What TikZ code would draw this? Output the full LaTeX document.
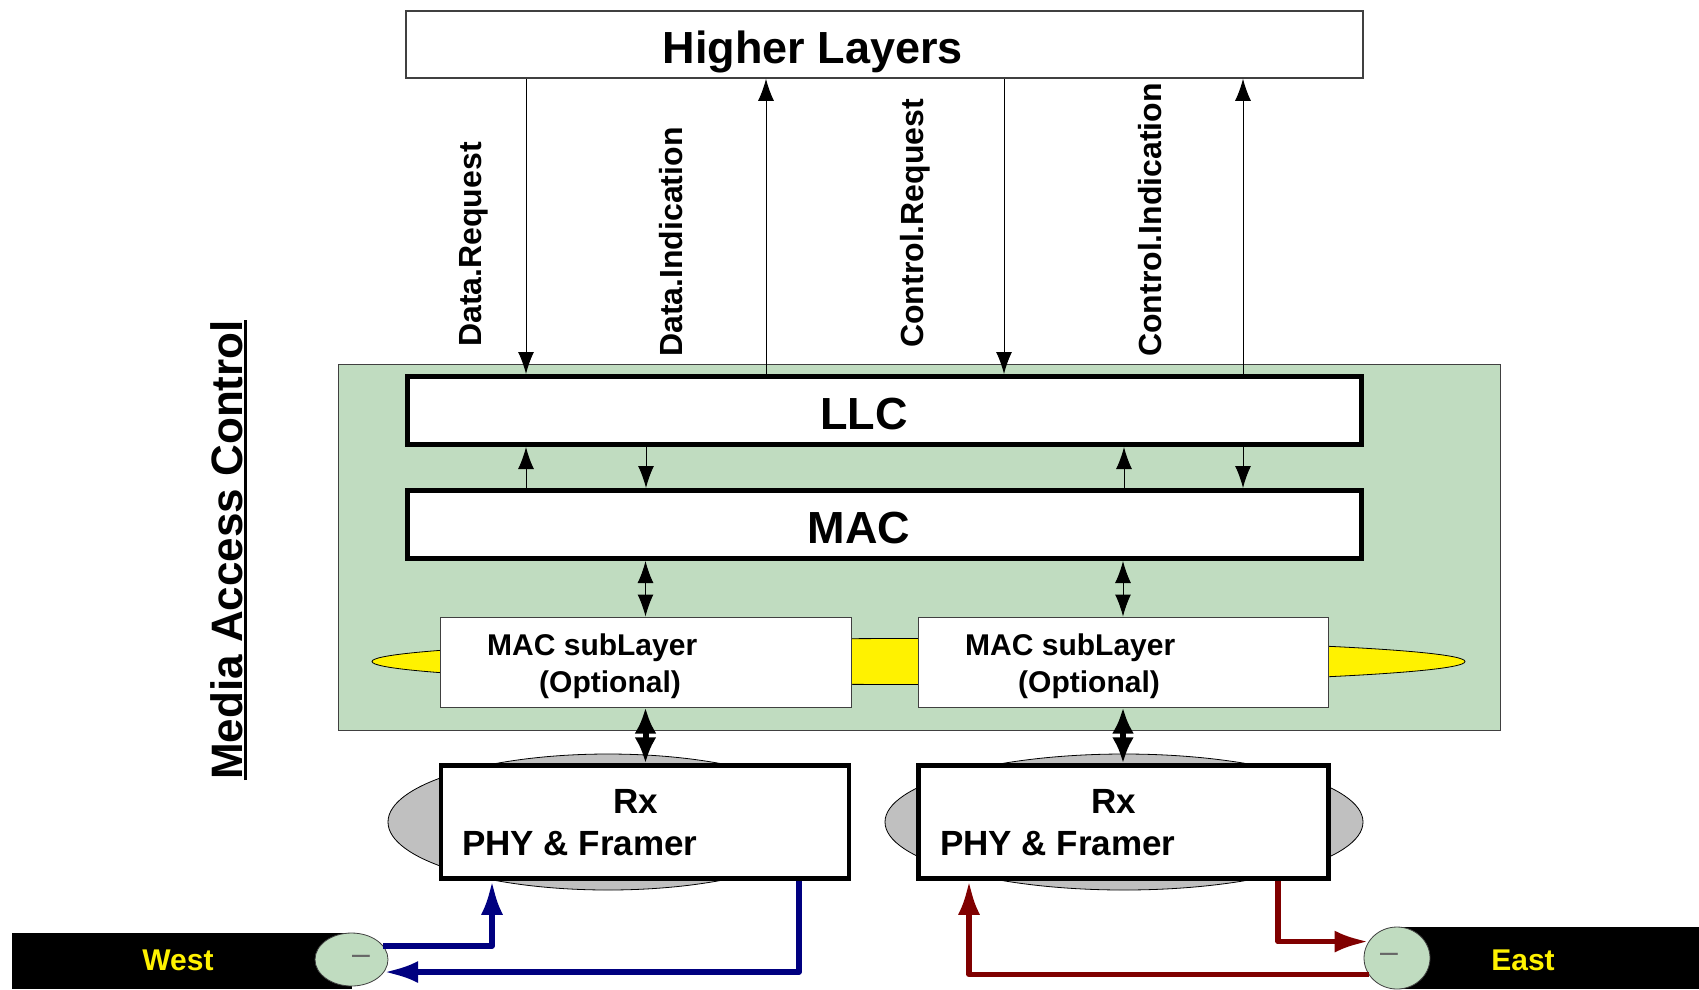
\documentclass[tikz,border=0pt]{standalone}
\usepackage{fontspec}
\setmainfont{Liberation Sans}
\usetikzlibrary{arrows.meta, shapes.geometric}
\definecolor{macgreen}{RGB}{192, 220, 192}
\definecolor{linkblue}{RGB}{0, 0, 128}
\definecolor{linkred}{RGB}{128, 0, 0}
\definecolor{phygrey}{RGB}{192, 192, 192}
\definecolor{edgegrey}{RGB}{64, 64, 64}

\begin{document}
\begin{tikzpicture}[
	x=1pt, y=-1pt,
	>={Latex[length=22pt, width=16pt]},
	font=\bfseries,
	% Styles for the layer boxes
	layerbox/.style={draw=black, line width=5pt, fill=white, inner sep=0pt},
	subbox/.style={draw=edgegrey, line width=1pt, fill=white, inner sep=0pt},
	phybox/.style={draw=black, line width=4.5pt, fill=white, inner sep=0pt},
	% Styles for the texts (multi-line nodes sit on their last baseline)
	bigtext/.style={font=\fontsize{45}{54}\selectfont\bfseries, inner sep=0pt, anchor=base},
	primtext/.style={font=\fontsize{32}{38}\selectfont\bfseries, rotate=90, anchor=base west, inner sep=0pt},
	subtext/.style={font=\fontsize{30}{37}\selectfont\bfseries, align=left, anchor=base west, inner sep=0pt},
	phytext/.style={font=\fontsize{35}{42}\selectfont\bfseries, align=left, anchor=base west, inner sep=0pt},
	cabletext/.style={text=yellow, font=\fontsize{30}{36}\selectfont\bfseries, inner sep=0pt},
	% Styles for the links
	thinlink/.style={line width=1pt},
	thicklink/.style={line width=6pt, >={Latex[length=26pt, width=22pt]}, <->},
	bluewire/.style={draw=linkblue, line width=5.5pt, line join=round, >={Latex[length=34pt, width=22pt]}, ->},
	redwire/.style={draw=linkred, line width=5.5pt, line join=round, >={Latex[length=34pt, width=22pt]}, ->},
	cableend/.style={ellipse, draw=edgegrey, line width=0.8pt, fill=macgreen, inner sep=0pt, text=black!60, font=\fontsize{32}{32}\selectfont\mdseries}
	]
	\useasboundingbox (0,0) rectangle (1699,989);

	% ==========================================
	% 1. HIGHER LAYERS
	% ==========================================
	\node[draw=edgegrey, line width=1.5pt, fill=white, inner sep=0pt, minimum width=957pt, minimum height=67pt] (higher) at (884.5,44.5) {};
	\node[bigtext] (higherTxt) at (813,63) {Higher Layers};

	% ==========================================
	% 2. MEDIA ACCESS CONTROL
	% ==========================================
	\draw[fill=macgreen, draw=edgegrey, line width=1pt] (338,364) rectangle (1500,730);
	\draw[fill=yellow, draw=black, line width=0.8pt] (918.5,661.5) ellipse [x radius=546.5pt, y radius=23pt];

	\node[subbox, minimum width=411pt, minimum height=90pt] (subW) at (645.5,662) {};
	\node[subbox, minimum width=410pt, minimum height=90pt] (subE) at (1123,662) {};
	\node[subtext] (subWTxt) at (487,692) {MAC subLayer\\\hspace*{52pt}(Optional)};
	\node[subtext] (subETxt) at (965,692) {MAC subLayer\\\hspace*{53pt}(Optional)};

	\node[layerbox, minimum width=954pt, minimum height=68pt] (llc) at (884,410.5) {};
	\node[layerbox, minimum width=954pt, minimum height=68pt] (mac) at (884,524.5) {};
	\node[bigtext] (llcTxt) at (864,429) {LLC};
	\node[bigtext] (macTxt) at (859,543) {MAC};

	% vertical title, underlined
	\node[font=\fontsize{44}{52}\selectfont\bfseries, rotate=90, anchor=base west, inner sep=0pt] (macTitle) at (242,780) {Media Access Control};
	\draw[line width=3.5pt] ([xshift=3.5pt]macTitle.base west) -- ([xshift=3.5pt]macTitle.base east);

	% column positions of the vertical links
	\coordinate (dreqCol) at (526,0);
	\coordinate (dindCol) at (766,0);
	\coordinate (creqCol) at (1004,0);
	\coordinate (cindCol) at (1243,0);
	\coordinate (macWCol) at (646,0);
	\coordinate (macECol) at (1124,0);

	% primitives between the higher layers and LLC
	\draw[thinlink, ->] (higher.south -| dreqCol) -- (llc.north -| dreqCol);
	\draw[thinlink, ->] (llc.north -| dindCol) -- (higher.south -| dindCol);
	\draw[thinlink, ->] (higher.south -| creqCol) -- (llc.north -| creqCol);
	\draw[thinlink, ->] (llc.north -| cindCol) -- (higher.south -| cindCol);
	\node[primtext] (dreqLbl) at (481,347) {Data.Request};
	\node[primtext] (dindLbl) at (682,357) {Data.Indication};
	\node[primtext] (creqLbl) at (923,348) {Control.Request};
	\node[primtext] (cindLbl) at (1161,357) {Control.Indication};

	% LLC <-> MAC
	\draw[thinlink, ->] (mac.north -| dreqCol) -- (llc.south -| dreqCol);
	\draw[thinlink, ->] (llc.south -| macWCol) -- (mac.north -| macWCol);
	\draw[thinlink, ->] (mac.north -| macECol) -- (llc.south -| macECol);
	\draw[thinlink, ->] (llc.south -| cindCol) -- (mac.north -| cindCol);

	% MAC <-> sublayers
	\draw[thinlink, <->] (mac.south -| subW.north) -- (subW.north);
	\draw[thinlink, <->] (mac.south -| subE.north) -- (subE.north);

	% ==========================================
	% 3. RX PHY AND FRAMER
	% ==========================================
	\draw[fill=phygrey, draw=black, line width=0.8pt] (608,822) ellipse [x radius=220pt, y radius=68pt];
	\draw[fill=phygrey, draw=black, line width=0.8pt] (1124,822) ellipse [x radius=239pt, y radius=68pt];

	\node[phybox, minimum width=408pt, minimum height=113pt] (phyW) at (645,822) {};
	\node[phybox, minimum width=410pt, minimum height=113pt] (phyE) at (1123.5,822) {};
	\node[phytext] (phyWTxt) at (462,855) {\hspace*{151pt}Rx\\PHY \& Framer};
	\node[phytext] (phyETxt) at (940,855) {\hspace*{151pt}Rx\\PHY \& Framer};

	\draw[thicklink] (subW.south) -- (subW.south |- phyW.north);
	\draw[thicklink] (subE.south) -- (subE.south |- phyE.north);

	% ==========================================
	% 4. WEST AND EAST LINKS
	% ==========================================
	\fill[black] (12,933) rectangle (351.5,989);
	\fill[black] (1397,927) rectangle (1699,989);
	\node[cableend, minimum width=73pt, minimum height=53pt] (westEnd) at (351.5,959.5) {\hspace*{19pt}--};
	\node[cableend, minimum width=66pt, minimum height=62pt] (eastEnd) at (1397,958) {--\hspace*{16pt}};
	\node[cabletext] (westTxt) at (178,960) {West};
	\node[cabletext] (eastTxt) at (1523,960) {East};

	\coordinate (blueUpCol) at (492,0);
	\coordinate (blueDnCol) at (799,0);
	\coordinate (redUpCol) at (969,0);
	\coordinate (redDnCol) at (1278,0);

	\draw[bluewire] (westEnd.23) -| (phyW.south -| blueUpCol);
	\draw[bluewire] (phyW.south -| blueDnCol) |- (westEnd.-21);
	\draw[redwire] (eastEnd.210) -| (phyE.south -| redUpCol);
	\draw[redwire] (phyE.south -| redDnCol) |- (eastEnd.150);

\end{tikzpicture}
\end{document}
